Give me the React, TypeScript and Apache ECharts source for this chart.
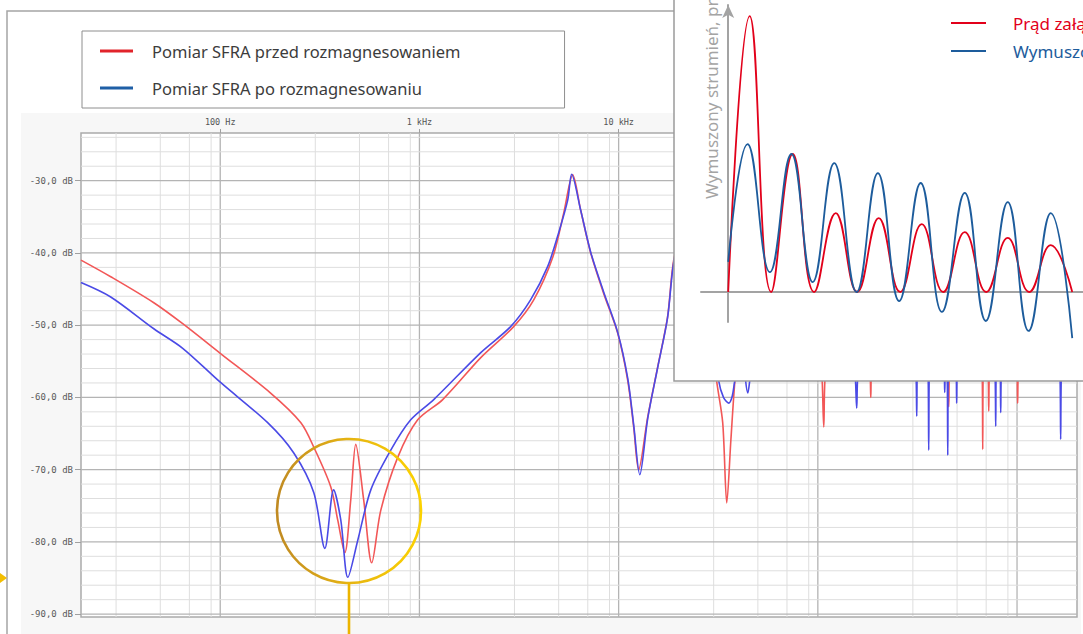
import React, { useEffect, useRef } from "react";
import * as echarts from "echarts";

// ---------- names / texts ----------
const NAME_BEFORE = "Pomiar SFRA przed rozmagnesowaniem";
const NAME_AFTER = "Pomiar SFRA po rozmagnesowaniu";
const NAME_INRUSH = "Prąd załączeniowy";
const NAME_FLUX = "Wymuszony strumień";
const INSET_AXIS_TITLE = "Wymuszony strumień, prąd załączeniowy";

// ---------- main chart axes ----------
const FREQ_MIN_HZ = 20;
const FREQ_MAX_HZ = 2000000;
const DB_MIN = -90.4;
const DB_MAX = -23.4;
const freqTickHz = [100, 1000, 10000, 100000, 1000000];
const freqTickLabels = ["100 Hz", "1 kHz", "10 kHz", "100 kHz", "1 MHz"];
const dbTicks = [-90, -80, -70, -60, -50, -40, -30];
const minorFreqFactors = [3, 5, 7, 9];
const decadesHz = [10, 100, 1000, 10000, 100000, 1000000];

// ---------- SFRA curves: [frequency Hz, dB] ----------
const sfraBefore: [number, number][] = [
  [20, -41.0], [28.2, -43.3], [46.4, -46.9], [64.8, -49.8], [100, -53.9],
  [179, -59.4], [254, -63.5], [295, -66.9], [359, -72.4], [389, -77.0],
  [422, -81.5], [452, -74.2], [479, -66.5], [525, -74.2], [576, -82.9],
  [640, -75.6], [778, -68.3], [980, -63.1], [1309, -60.3], [2032, -54.5],
  [2972, -50.2], [3748, -46.5], [4670, -40.6], [5300, -34.5], [5880, -29.2],
  [6450, -34.1], [7240, -40.0], [8410, -45.6], [9890, -51.1], [11100, -57.6],
  [11900, -64.1], [12600, -70.0], [14000, -62.7], [15700, -55.8], [17600, -48.9],
  [18900, -41.0], [22000, -34], [26000, -43], [29000, -51], [31100, -57.9],
  [33300, -63.5], [34900, -74.6], [36600, -65.9], [38300, -57.9], [41000, -50],
  [52000, -44], [75000, -45], [100000, -52], [104500, -56], [107100, -64.1],
  [109500, -56], [125000, -50], [175000, -53], [182500, -56], [184400, -60.0],
  [186300, -56], [250000, -51], [440000, -54], [446000, -56], [454000, -61.3],
  [459000, -56], [600000, -53], [668000, -56], [672600, -67.2], [678000, -56],
  [712000, -56], [721000, -61.9], [728000, -56], [900000, -53], [998000, -56],
  [1007000, -60.8], [1017000, -56], [1400000, -50], [2000000, -47],
];

const sfraAfter: [number, number][] = [
  [20, -44.1], [28.2, -46.1], [46.4, -50.5], [64.8, -53.2], [100, -57.9],
  [173, -63.5], [234, -67.7], [295, -73.2], [335, -80.9], [371, -72.8],
  [403, -77.0], [437, -84.9], [490, -79.8], [570, -72.8], [718, -67.3],
  [904, -63.1], [1180, -60.3], [2032, -53.8], [2870, -50.2], [3614, -46.5],
  [4400, -41.9], [5000, -37.2], [5550, -32.7], [5810, -29.1], [6450, -34.1],
  [7240, -39.9], [8410, -45.4], [9890, -51.0], [11100, -57.3], [11900, -63.8],
  [12770, -70.7], [14000, -62.9], [15700, -55.9], [17600, -49.0], [18900, -41.3],
  [22000, -33], [26000, -42], [29500, -50], [31800, -57.7], [33600, -60.0],
  [35700, -60.8], [37200, -59.8], [38300, -57.7], [42000, -53], [43400, -57.7],
  [44500, -59.4], [45500, -57.7], [48000, -52], [55000, -46], [85000, -45],
  [140000, -51], [153000, -56], [156700, -61.5], [160000, -56], [250000, -52],
  [310000, -56], [313700, -62.6], [317000, -56], [356000, -56], [360300, -67.3],
  [364000, -56], [429000, -56], [433500, -59.3], [437500, -56], [445000, -56],
  [449000, -68.0], [453000, -56], [493000, -56], [497600, -60.8], [502000, -56],
  [700000, -53], [774000, -56], [781600, -64.0], [788000, -56], [820000, -56],
  [828000, -62.1], [836000, -56], [1200000, -51], [1640000, -56], [1656000, -65.8],
  [1672000, -56], [2000000, -50],
];

// ---------- inset: [time ms, relative amplitude] ----------
const inrushCurrent: [number, number][] = [
  [0, 0], [10, 100], [20, 0], [30, 50], [40, 0], [50, 28.6], [60, 0],
  [70, 26.8], [80, 0], [90, 24.6], [100, 0], [110, 21.7], [120, 0],
  [130, 19.6], [140, 0], [150, 17.0], [160, 0],
];
const forcedFlux: [number, number][] = [
  [0, 10.9], [9, 53.6], [19.4, 7.2], [29.4, 50.0], [39.3, 3.6], [49.3, 46.7],
  [59.7, 0], [69.6, 43.1], [79.5, -3.3], [89.5, 39.5], [99.4, -7.2],
  [110, 35.9], [119.8, -10.5], [130, 32.6], [139.7, -14.1], [150, 28.6],
  [160, -16.7],
];
const INSET_T_MIN = -12.65;
const INSET_T_MAX = 165;
const INSET_A_MIN = -10.87;
const INSET_A_MAX = 104;

const MONO = '"DejaVu Sans Mono", monospace';
const SANS = '"Noto Sans", sans-serif';

function buildOption() {
  const toLog = (pts: [number, number][]) => pts.map(([f, d]) => [Math.log10(f), d]);
  const tickLogs = freqTickHz.map((f) => Math.log10(f));
  const xMin = Math.log10(FREQ_MIN_HZ);
  const xMax = Math.log10(FREQ_MAX_HZ);

  const vLines: number[][] = [];
  decadesHz.forEach((d) =>
    minorFreqFactors.forEach((k) => {
      const f = d * k;
      if (f > FREQ_MIN_HZ && f < FREQ_MAX_HZ) vLines.push([Math.log10(f), 0]);
    })
  );
  tickLogs.forEach((v) => vLines.push([v, 1]));
  const hLines: number[][] = [];
  for (let v = -90; v <= -24; v += 2) hLines.push([v, dbTicks.indexOf(v) >= 0 ? 1 : 0]);

  const gridLineSeries = (name: string, data: number[][], vertical: boolean) => ({
    type: "custom",
    name,
    xAxisIndex: 0,
    yAxisIndex: 0,
    z: 1,
    silent: true,
    data,
    renderItem: (params: any, api: any) => {
      const cs = params.coordSys;
      const major = api.value(1) === 1;
      let shape;
      if (vertical) {
        const p = api.coord([api.value(0), DB_MIN]);
        shape = { x1: p[0], y1: cs.y, x2: p[0], y2: cs.y + cs.height };
      } else {
        const p = api.coord([xMin, api.value(0)]);
        shape = { x1: cs.x, y1: p[1], x2: cs.x + cs.width, y2: p[1] };
      }
      return {
        type: "line",
        shape,
        style: { stroke: major ? "#b4b4b4" : "#dedede", lineWidth: major ? 1.3 : 1 },
      };
    },
  });

  return {
    animation: false,
    backgroundColor: "#ffffff",
    grid: [
      {
        left: 81, top: 133, width: 996, height: 484, show: true,
        backgroundColor: "#ffffff", borderColor: "#ababab", borderWidth: 1.5,
      },
      { left: 701, top: 5, width: 393, height: 317, show: false },
    ],
    xAxis: [
      {
        type: "value", gridIndex: 0, position: "top", min: xMin, max: xMax,
        axisLine: { show: false },
        splitLine: { show: false },
        axisTick: { show: true, customValues: tickLogs, length: 4, lineStyle: { color: "#a0a0a0" } },
        axisLabel: {
          customValues: tickLogs,
          formatter: (v: number) => {
            const i = tickLogs.findIndex((t) => Math.abs(t - v) < 1e-6);
            return i >= 0 ? freqTickLabels[i] : "";
          },
          fontFamily: MONO, fontSize: 8.5, color: "#555555", margin: 7,
        },
      },
      {
        type: "value", gridIndex: 1, min: INSET_T_MIN, max: INSET_T_MAX, z: 55,
        axisLine: { show: true, onZero: true, lineStyle: { color: "#a3a3a3", width: 2 } },
        axisTick: { show: false }, axisLabel: { show: false }, splitLine: { show: false },
      },
    ],
    yAxis: [
      {
        type: "value", gridIndex: 0, min: DB_MIN, max: DB_MAX,
        axisLine: { show: false },
        splitLine: { show: false },
        axisTick: { show: true, customValues: dbTicks, length: 6, lineStyle: { color: "#a0a0a0" } },
        axisLabel: {
          customValues: dbTicks,
          formatter: (v: number) => v.toFixed(1).replace(".", ",") + " dB",
          fontFamily: MONO, fontSize: 9, color: "#5a5a5a", margin: 8,
        },
      },
      {
        type: "value", gridIndex: 1, min: INSET_A_MIN, max: INSET_A_MAX, z: 55,
        axisLine: {
          show: true, onZero: true, symbol: ["none", "arrow"], symbolSize: [9, 13],
          lineStyle: { color: "#a3a3a3", width: 2 },
        },
        axisTick: { show: false }, axisLabel: { show: false }, splitLine: { show: false },
      },
    ],
    legend: [
      {
        left: 82, top: 31, orient: "vertical", selectedMode: false,
        backgroundColor: "#ffffff", borderColor: "#8e8e8e", borderWidth: 1,
        padding: [9, 104, 9, 18], itemGap: 15, itemWidth: 33, itemHeight: 3, icon: "rect",
        textStyle: { fontFamily: SANS, fontSize: 16.5, color: "#3c3c3c", lineHeight: 22, padding: [0, 0, 0, 14] },
        data: [
          { name: NAME_BEFORE, itemStyle: { color: "#e1242b" } },
          { name: NAME_AFTER, itemStyle: { color: "#1f5fa6" } },
        ],
      },
      {
        left: 951, top: 12, orient: "vertical", selectedMode: false, z: 57,
        padding: 0, itemGap: 6, itemWidth: 35, itemHeight: 2, icon: "rect",
        textStyle: { fontFamily: SANS, fontSize: 17, lineHeight: 22, padding: [0, 0, 0, 22] },
        data: [
          { name: NAME_INRUSH, itemStyle: { color: "#e2001a" }, textStyle: { color: "#e2001a" } },
          { name: NAME_FLUX, itemStyle: { color: "#1d5c9c" }, textStyle: { color: "#1d5c9c" } },
        ],
      },
    ],
    graphic: [
      { type: "rect", z: -1, silent: true, shape: { x: 21, y: 113, width: 1060, height: 530 }, style: { fill: "#f7f7f7" } },
      { type: "rect", z: 0, silent: true, shape: { x: 7, y: 11, width: 1100, height: 700 }, style: { fill: "none", stroke: "#a5a5a5", lineWidth: 1.5 } },
      { type: "rect", z: 50, silent: true, shape: { x: 674, y: -10, width: 430, height: 391 }, style: { fill: "#ffffff", stroke: "#9b9b9b", lineWidth: 1.5 } },
      {
        type: "text", z: 57, silent: true, x: 711, y: 199, rotation: Math.PI / 2,
        style: { text: INSET_AXIS_TITLE, fill: "#a4a4a4", fontSize: 17, fontFamily: SANS, align: "left", verticalAlign: "middle" },
      },
      {
        type: "circle", z: 45, silent: true, shape: { cx: 349, cy: 511, r: 72 },
        style: {
          fill: "none", lineWidth: 2.6,
          stroke: {
            type: "linear", x: 0, y: 0, x2: 1, y2: 0, global: false,
            colorStops: [
              { offset: 0, color: "#c08a22" },
              { offset: 0.5, color: "#e6b412" },
              { offset: 1, color: "#fcd200" },
            ],
          },
        },
      },
      { type: "line", z: 45, silent: true, shape: { x1: 349, y1: 583, x2: 349, y2: 640 }, style: { stroke: "#ecb400", lineWidth: 2.6 } },
      { type: "polygon", z: 45, silent: true, shape: { points: [[0, 573], [7, 578], [0, 583]] }, style: { fill: "#f3be00" } },
    ],
    series: [
      gridLineSeries("grid-v", vLines, true),
      gridLineSeries("grid-h", hLines, false),
      {
        type: "line", name: NAME_BEFORE, xAxisIndex: 0, yAxisIndex: 0, z: 3,
        data: toLog(sfraBefore), showSymbol: false, symbol: "none", smooth: 0.3,
        lineStyle: { color: "#f25757", width: 1.6 }, itemStyle: { color: "#f25757" },
      },
      {
        type: "line", name: NAME_AFTER, xAxisIndex: 0, yAxisIndex: 0, z: 3,
        data: toLog(sfraAfter), showSymbol: false, symbol: "none", smooth: 0.3,
        lineStyle: { color: "#4a4ae6", width: 1.6 }, itemStyle: { color: "#4a4ae6" },
      },
      {
        type: "line", name: NAME_INRUSH, xAxisIndex: 1, yAxisIndex: 1, z: 56, clip: false,
        data: inrushCurrent, showSymbol: false, symbol: "none", smooth: 0.45,
        lineStyle: { color: "#e2001a", width: 1.8 }, itemStyle: { color: "#e2001a" },
      },
      {
        type: "line", name: NAME_FLUX, xAxisIndex: 1, yAxisIndex: 1, z: 56, clip: false,
        data: forcedFlux, showSymbol: false, symbol: "none", smooth: 0.45,
        lineStyle: { color: "#1d5c9c", width: 1.8 }, itemStyle: { color: "#1d5c9c" },
      },
    ],
  };
}

export default function App() {
  const ref = useRef<HTMLDivElement | null>(null);
  useEffect(() => {
    if (!ref.current) return;
    const chart = echarts.init(ref.current, null, { renderer: "svg" });
    chart.setOption(buildOption() as any);
    return () => chart.dispose();
  }, []);
  return (
    <div style={{ position: "fixed", left: 0, top: 0, width: 1083, height: 634, overflow: "hidden", background: "#ffffff" }}>
      <div ref={ref} style={{ width: 1083, height: 634 }} />
    </div>
  );
}
